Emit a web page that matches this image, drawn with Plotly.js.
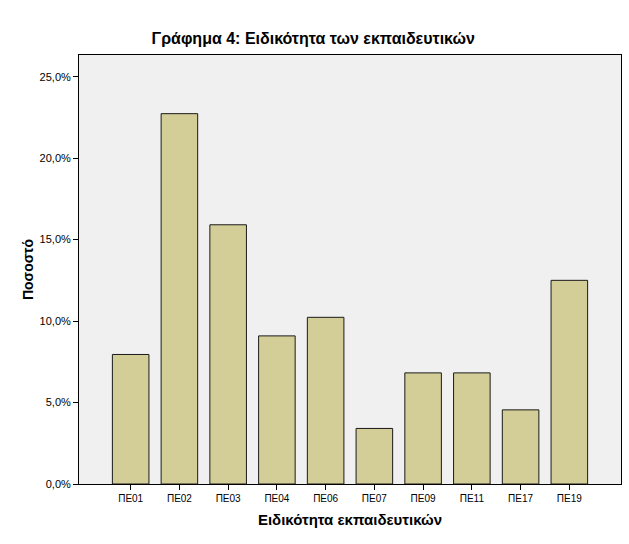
<!DOCTYPE html>
<html>
<head>
<meta charset="utf-8">
<script src="https://cdn.plot.ly/plotly-3.0.1.min.js"></script>
<style>html,body{margin:0;padding:0;background:#fff}#chart{width:629px;height:544px}</style>
</head>
<body>
<div id="chart"></div>
<script>
const categories = ["ΠΕ01","ΠΕ02","ΠΕ03","ΠΕ04","ΠΕ06","ΠΕ07","ΠΕ09","ΠΕ11","ΠΕ17","ΠΕ19"];
const percentages = [7.95, 22.73, 15.91, 9.09, 10.23, 3.41, 6.82, 6.82, 4.55, 12.50];
const yTickValues = [0, 5, 10, 15, 20, 25];
const yTickLabels = ["0,0%", "5,0%", "10,0%", "15,0%", "20,0%", "25,0%"];
const chartTitle = "Γράφημα 4: Ειδικότητα των εκπαιδευτικών";
const xTitle = "Ειδικότητα εκπαιδευτικών";
const yTitle = "Ποσοστό";

const font = "Liberation Sans, Arial, sans-serif";

Plotly.newPlot("chart", [{
  type: "bar",
  x: categories,
  y: percentages,
  width: 0.75,
  marker: {color: "#D3CE97", line: {color: "#1a1a1a", width: 1}},
  hoverinfo: "x+y"
}], {
  width: 629, height: 544,
  margin: {l: 79, r: 8, t: 55, b: 60},
  paper_bgcolor: "#ffffff",
  plot_bgcolor: "#F0F0F0",
  separators: ",.",
  showlegend: false,
  title: {text: chartTitle, font: {family: font, size: 16, color: "#000", weight: "bold"}, x: 0.498, xanchor: "center", y: 0.93, yanchor: "middle"},
  xaxis: {
    type: "category",
    range: [-1.06, 10.06],
    showline: true, linecolor: "#000", linewidth: 1, mirror: true,
    ticks: "outside", ticklen: 5, tickcolor: "#000",
    tickfont: {family: font, size: 10, color: "#000"},
    showgrid: false, zeroline: false,
    title: {text: xTitle, font: {family: font, size: 15, color: "#000", weight: "bold"}, standoff: 11}
  },
  yaxis: {
    range: [0, 26.33],
    tickmode: "array",
    tickvals: yTickValues,
    ticktext: yTickLabels,
    showline: true, linecolor: "#000", linewidth: 1, mirror: true,
    ticks: "outside", ticklen: 5, tickcolor: "#000",
    tickfont: {family: font, size: 11, color: "#000"},
    showgrid: false, zeroline: false,
    title: {text: yTitle, font: {family: font, size: 14, color: "#000", weight: "bold"}, standoff: 2}
  }
}, {displayModeBar: false, staticPlot: true});
</script>
</body>
</html>
